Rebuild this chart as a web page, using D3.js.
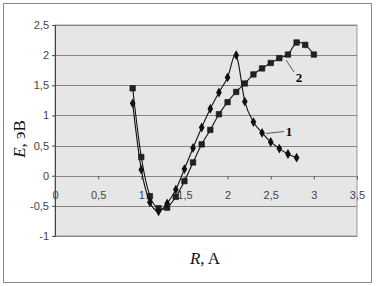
<!DOCTYPE html>
<html><head><meta charset="utf-8">
<script src="https://cdn.jsdelivr.net/npm/d3@7"></script>
<style>body{margin:0;background:#fff}svg{display:block}</style>
</head><body>
<script>
const r1 = [0.9, 1.0, 1.1, 1.2, 1.3, 1.4, 1.5, 1.6, 1.7, 1.8, 1.9, 2.0, 2.1, 2.2, 2.3, 2.4, 2.5, 2.6, 2.7, 2.8];
const e1 = [1.2, 0.1, -0.44, -0.59, -0.46, -0.23, 0.11, 0.46, 0.8, 1.11, 1.38, 1.63, 2.0, 1.23, 0.89, 0.71, 0.56, 0.45, 0.36, 0.3];
const r2 = [0.9, 1.0, 1.1, 1.2, 1.3, 1.4, 1.5, 1.6, 1.7, 1.8, 1.9, 2.0, 2.1, 2.2, 2.3, 2.4, 2.5, 2.6, 2.7, 2.8, 2.9, 3.0];
const e2 = [1.45, 0.31, -0.34, -0.54, -0.53, -0.35, -0.09, 0.22, 0.52, 0.76, 1.02, 1.22, 1.39, 1.53, 1.68, 1.78, 1.87, 1.95, 2.01, 2.21, 2.17, 2.01];
const xTicks = [0, 0.5, 1, 1.5, 2, 2.5, 3, 3.5];
const xTickLabels = ["0", "0,5", "1", "1,5", "2", "2,5", "3", "3,5"];
const yTicks = [-1, -0.5, 0, 0.5, 1, 1.5, 2, 2.5];
const yTickLabels = ["-1", "-0,5", "0", "0,5", "1", "1,5", "2", "2,5"];

const W = 376, H = 286;
const svg = d3.select("body").append("svg").attr("width", W).attr("height", H);
const x = d3.scaleLinear().domain([0, 3.5]).range([55, 357]);
const y = d3.scaleLinear().domain([-1, 2.5]).range([236, 25]);

svg.append("rect").attr("x", 3.5).attr("y", 3.5).attr("width", 368).attr("height", 279)
  .attr("fill", "#fff").attr("stroke", "#8a8a8a").attr("stroke-width", 1);
svg.append("rect").attr("x", x(0)).attr("y", y(2.5)).attr("width", x(3.5) - x(0)).attr("height", y(-1) - y(2.5))
  .attr("fill", "#e6e6e6").attr("stroke", "#9a9a9a");

// gridlines
svg.append("g").selectAll("line").data(yTicks).join("line")
  .attr("x1", x(0)).attr("x2", x(3.5))
  .attr("y1", d => Math.round(y(d)) + 0.5).attr("y2", d => Math.round(y(d)) + 0.5)
  .attr("stroke", "#858585").attr("stroke-width", 1);

// y axis
const yAxis = d3.axisLeft(y).tickValues(yTicks).tickFormat((d, i) => yTickLabels[i]).tickSize(3).tickPadding(3);
const gy = svg.append("g").attr("transform", `translate(${x(0)},0)`).call(yAxis);
gy.select(".domain").attr("stroke", "#444");
gy.selectAll(".tick line").attr("stroke", "#444");
gy.selectAll("text").attr("font-family", "Arial, 'Liberation Sans', sans-serif").attr("font-size", 11).attr("fill", "#444");

// x axis at y=0
const xAxis = d3.axisBottom(x).tickValues(xTicks).tickFormat((d, i) => xTickLabels[i]).tickSize(3).tickPadding(12);
const gx = svg.append("g").attr("transform", `translate(0,${Math.round(y(0)) + 0.5})`).call(xAxis);
gx.select(".domain").remove();
gx.selectAll(".tick line").attr("stroke", "#555");
gx.selectAll("text").attr("font-family", "Arial, 'Liberation Sans', sans-serif").attr("font-size", 11).attr("fill", "#444");

const line = d3.line().x(d => x(d[0])).y(d => y(d[1])).curve(d3.curveCardinal.tension(0));
const d1 = r1.map((r, i) => [r, e1[i]]);
const d2 = r2.map((r, i) => [r, e2[i]]);

svg.append("path").attr("d", line(d1)).attr("fill", "none").attr("stroke", "#111").attr("stroke-width", 1.1);
svg.append("path").attr("d", line(d2)).attr("fill", "none").attr("stroke", "#111").attr("stroke-width", 1.1);

svg.append("g").selectAll("path").data(d2).join("path")
  .attr("d", d3.symbol(d3.symbolSquare, 30)())
  .attr("transform", d => `translate(${x(d[0])},${y(d[1])})`)
  .attr("fill", "#222").attr("stroke", "#111").attr("stroke-width", 0.6);
svg.append("g").selectAll("path").data(d1).join("path")
  .attr("d", d3.symbol(d3.symbolDiamond, 28)())
  .attr("transform", d => `translate(${x(d[0])},${y(d[1])})`)
  .attr("fill", "#111");

// series labels with leaders
svg.append("line").attr("x1", 266).attr("y1", 133.5).attr("x2", 284).attr("y2", 131.5).attr("stroke", "#333").attr("stroke-width", 0.8);
svg.append("text").attr("x", 289).attr("y", 136).attr("text-anchor", "middle")
  .attr("font-family", "'Liberation Serif', 'Times New Roman', serif").attr("font-weight", "bold").attr("font-size", 13).text("1");
svg.append("line").attr("x1", 286).attr("y1", 60).attr("x2", 294).attr("y2", 72).attr("stroke", "#333").attr("stroke-width", 0.8);
svg.append("text").attr("x", 299).attr("y", 82).attr("text-anchor", "middle")
  .attr("font-family", "'Liberation Serif', 'Times New Roman', serif").attr("font-weight", "bold").attr("font-size", 13).text("2");

// axis titles
const yt = svg.append("text").attr("transform", "translate(25,139) rotate(-90)").attr("text-anchor", "middle")
  .attr("font-family", "'Liberation Serif', 'Times New Roman', serif").attr("font-size", 17).attr("fill", "#111");
yt.append("tspan").attr("font-style", "italic").text("E");
yt.append("tspan").text(", эВ");
const xt = svg.append("text").attr("x", 205).attr("y", 264).attr("text-anchor", "middle")
  .attr("font-family", "'Liberation Serif', 'Times New Roman', serif").attr("font-size", 17).attr("fill", "#111");
xt.append("tspan").attr("font-style", "italic").text("R");
xt.append("tspan").text(", A");
</script>
</body></html>
